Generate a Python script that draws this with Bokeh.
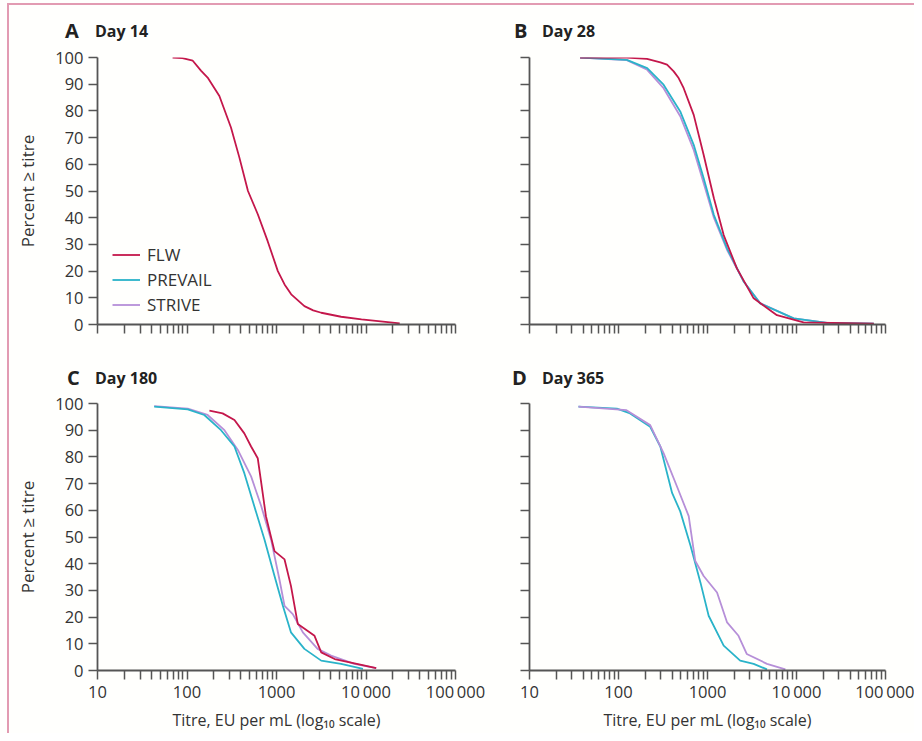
from bokeh.plotting import figure
from bokeh.layouts import row, column
from bokeh.models import FixedTicker, Legend, LegendItem, Div
from bokeh.embed import file_html
from bokeh.resources import INLINE

# ---------------- data (titre EU/mL, percent >= titre) ----------------
a_flw_x = [69, 89, 116, 144, 170, 230, 310, 385, 480, 618, 795, 1035, 1230, 1460, 2050, 2570, 3160, 5270, 8900, 23800]
a_flw_y = [100, 99.8, 98.8, 95, 92.5, 85.6, 73.8, 62.5, 50, 41.3, 31.3, 20, 15, 11.3, 6.9, 5.3, 4.4, 2.9, 1.9, 0.4]

b_flw_x = [37, 124, 209, 295, 351, 417, 474, 540, 700, 906, 1180, 1520, 2140, 3300, 6030, 12000, 74000]
b_flw_y = [100, 100, 99.5, 98.2, 97.3, 94.8, 92.3, 88.5, 78.5, 63.5, 47.3, 33.5, 21, 9.8, 3.5, 0.8, 0.3]
b_prev_x = [37, 124, 210, 321, 494, 700, 906, 1180, 1660, 2560, 3900, 9300, 22000, 74000]
b_prev_y = [100, 99.1, 96, 89.8, 79.8, 67.3, 54.8, 41, 28.5, 16, 7.9, 2.3, 0.6, 0.3]
b_str_x = [37, 124, 210, 321, 494, 700, 906, 1180, 1660, 2560, 3900, 9300, 22000, 74000]
b_str_y = [100, 99, 95.4, 88.5, 78, 65.4, 52.9, 40, 27.9, 16, 8, 2.3, 0.6, 0.3]

c_flw_x = [178, 250, 339, 437, 520, 617, 676, 762, 950, 1230, 1450, 1730, 2660, 3160, 4460, 8900, 13000]
c_flw_y = [97.3, 96.3, 93.8, 88.8, 83.9, 79.5, 70.2, 57.8, 44.7, 41.6, 31.7, 17.4, 13, 6.8, 4.3, 2.1, 0.9]
c_prev_x = [43, 102, 156, 240, 339, 437, 565, 735, 950, 1180, 1450, 2050, 3160, 5260, 9250]
c_prev_y = [98.8, 97.8, 95.7, 90, 83.9, 73.9, 61.5, 49, 35.4, 24.2, 14.3, 8.1, 3.7, 2.5, 0.6]
c_str_x = [43, 102, 170, 262, 370, 520, 676, 870, 1080, 1230, 1520, 1970, 2880, 4070, 7400, 13000]
c_str_y = [99, 98.1, 95.7, 90, 82.6, 72.7, 61.5, 49, 34, 24.2, 21.1, 14.3, 8.1, 5.6, 2.5, 0.9]

d_prev_x = [35.5, 96, 135, 227, 295, 400, 494, 646, 834, 1030, 1520, 2330, 3300, 4660]
d_prev_y = [98.8, 98.1, 96.3, 91.3, 83.9, 66.5, 59.6, 46.6, 32.9, 20.5, 9.3, 3.7, 2.5, 0.4]
d_str_x = [35.5, 123, 227, 321, 454, 615, 729, 905, 1280, 1660, 2230, 2760, 4660, 7500]
d_str_y = [98.8, 97.5, 91.9, 81.4, 68.9, 57.8, 41, 35.4, 29.2, 18, 13, 6.2, 2.5, 0.4]

series_names = ["FLW", "PREVAIL", "STRIVE"]
panel_letters = ["A", "B", "C", "D"]
panel_titles = ["Day 14", "Day 28", "Day 180", "Day 365"]

x_ticks = [10, 100, 1000, 10000, 100000]
x_tick_labels = ["10", "100", "1000", "10\u2009000", "100\u2009000"]
y_ticks = [0, 10, 20, 30, 40, 50, 60, 70, 80, 90, 100]

# ---------------- styles ----------------
COL = {"FLW": "#c4174b", "PREVAIL": "#2ab3c9", "STRIVE": "#b68fd8"}
FONT = "Open Sans"
AXIS_COL = "#555555"
TEXT_COL = "#333333"
BG = "#fffffd"
PINK = "#e29bb2"
minor = [m * d for d in (10, 100, 1000, 10000) for m in range(2, 10)]


def make_panel(w, h, left, right, top, bottom, show_ylab, show_xlab):
    p = figure(width=w, height=h, x_axis_type="log", x_range=(10, 100000), y_range=(0, 100),
               output_backend="svg", toolbar_location=None,
               min_border_left=left, min_border_right=right,
               min_border_top=top, min_border_bottom=bottom,
               background_fill_alpha=0, border_fill_alpha=0)
    p.outline_line_color = None
    p.grid.visible = False
    for ax in (p.xaxis[0], p.yaxis[0]):
        ax.axis_line_color = AXIS_COL
        ax.axis_line_width = 1.8
        ax.major_tick_line_color = AXIS_COL
        ax.minor_tick_line_color = AXIS_COL
        ax.major_tick_line_width = 1.5
        ax.minor_tick_line_width = 1.5
        ax.major_tick_in = 0
        ax.major_tick_out = 9
        ax.minor_tick_in = 0
        ax.minor_tick_out = 9
        ax.major_label_text_font = FONT
        ax.major_label_text_font_size = "16.5px"
        ax.major_label_text_color = TEXT_COL
        ax.axis_label_text_font = FONT
        ax.axis_label_text_font_style = "normal"
        ax.axis_label_text_color = TEXT_COL
    p.xaxis.axis_label_text_font_size = "16px"
    p.yaxis.axis_label_text_font_size = "17px"
    p.xaxis.ticker = FixedTicker(ticks=x_ticks, minor_ticks=minor)
    p.yaxis.ticker = FixedTicker(ticks=y_ticks)
    p.yaxis.minor_tick_out = 0
    p.xaxis.major_label_standoff = 0
    p.yaxis.major_label_standoff = 5
    if show_xlab:
        p.xaxis.major_label_overrides = {t: l for t, l in zip(x_ticks, x_tick_labels)}
        p.xaxis.axis_label = "Titre, EU per mL (log\u2081\u2080 scale)"
        p.xaxis.axis_label_standoff = 3
    else:
        p.xaxis.major_label_overrides = {t: "" for t in x_ticks}
    if show_ylab:
        p.yaxis.axis_label = "Percent \u2265 titre"
        p.yaxis.axis_label_standoff = 13
    else:
        p.yaxis.major_label_overrides = {t: "" for t in y_ticks}
    return p


def title_div(i, w, h, letter_left, title_left, center):
    span = ("position:absolute;top:{c}px;left:{l}px;transform:translateY(-50%);"
            "line-height:1;white-space:nowrap;font-size:{s}px;")
    html = ('<div style="position:relative;width:{w}px;height:{h}px;font-family:\'Open Sans\';'
            'font-weight:bold;color:#222222;">'
            '<span style="' + span.format(c=center, l=letter_left, s=20) + '">{a}</span>'
            '<span style="' + span.format(c=center, l=title_left, s=16) + '">{t}</span></div>')
    return Div(text=html.format(w=w, h=h, a=panel_letters[i], t=panel_titles[i]),
               width=w, height=h, margin=0)


def add_line(p, xs, ys, name):
    return p.line(xs, ys, line_color=COL[name], line_width=1.8)


pA = make_panel(500, 320, 97, 45, 17, 36, True, False)
pB = make_panel(414, 320, 29, 29, 17, 36, False, False)
pC = make_panel(500, 343, 97, 45, 13, 61, True, True)
pD = make_panel(414, 343, 29, 29, 13, 61, False, True)

dA = title_div(0, 500, 40, 65, 95, 31)
dB = title_div(1, 414, 40, 14, 42, 31)
dC = title_div(2, 500, 30, 67, 95, 18)
dD = title_div(3, 414, 30, 12, 42, 18)

rA = add_line(pA, a_flw_x, a_flw_y, "FLW")
rA2 = pA.line([1], [-50], line_color=COL["PREVAIL"], line_width=1.8)
rA3 = pA.line([1], [-50], line_color=COL["STRIVE"], line_width=1.8)

add_line(pB, b_str_x, b_str_y, "STRIVE")
add_line(pB, b_prev_x, b_prev_y, "PREVAIL")
add_line(pB, b_flw_x, b_flw_y, "FLW")

add_line(pC, c_str_x, c_str_y, "STRIVE")
add_line(pC, c_prev_x, c_prev_y, "PREVAIL")
add_line(pC, c_flw_x, c_flw_y, "FLW")

add_line(pD, d_prev_x, d_prev_y, "PREVAIL")
add_line(pD, d_str_x, d_str_y, "STRIVE")

legend = Legend(items=[LegendItem(label=series_names[0], renderers=[rA]),
                       LegendItem(label=series_names[1], renderers=[rA2]),
                       LegendItem(label=series_names[2], renderers=[rA3])],
                location=(15, 8), glyph_width=28, glyph_height=21, label_height=21,
                spacing=2, padding=0, margin=0, label_standoff=7,
                label_text_font=FONT, label_text_font_size="17px", label_text_color=TEXT_COL,
                border_line_alpha=0, background_fill_alpha=0)
pA.add_layout(legend)

frame_bg = ("linear-gradient({c},{c}) 7px 3px / 2px 100% no-repeat, "
            "linear-gradient({c},{c}) 7px 3px / 100% 2px no-repeat, {bg}").format(c=PINK, bg=BG)
layout = column(row(dA, dB), row(pA, pB), row(dC, dD), row(pC, pD),
                styles={"background": frame_bg})

open("out.html", "w").write(file_html(layout, INLINE))
